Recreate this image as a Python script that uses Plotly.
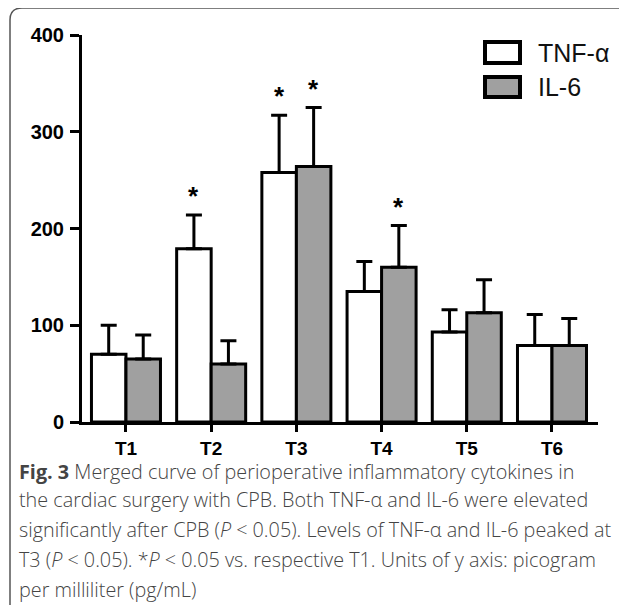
import plotly.graph_objects as go

categories = ["T1", "T2", "T3", "T4", "T5", "T6"]
tnf_mean = [70, 179, 258, 135, 93, 79]
tnf_upper = [100, 214, 317, 166, 116, 111]
il6_mean = [65, 60, 264, 160, 113, 79]
il6_upper = [90, 84, 325, 203, 147, 107]
tnf_sig = [False, True, True, False, False, False]
il6_sig = [False, False, True, True, False, False]
y_ticks = [0, 100, 200, 300, 400]

x = list(range(len(categories)))
tnf_err = [u - m for u, m in zip(tnf_upper, tnf_mean)]
il6_err = [u - m for u, m in zip(il6_upper, il6_mean)]

OFF = 8  # page body margin
W, H = 627 - OFF, 605 - OFF
L, T = 82 - OFF, 35 - OFF
PW = 598 - 82
PH = 422 - 35
R = W - L - PW
B = H - T - PH

def px(xpix):
    return (xpix - 82) / PW

def py(ypix):
    return (422 - ypix) / PH

fig = go.Figure()
common_err = dict(type="data", symmetric=False, color="black", thickness=3, width=8)
fig.add_trace(go.Bar(
    x=x, y=tnf_mean, name="TNF-α",
    marker=dict(color="white", line=dict(color="black", width=3)),
    error_y=dict(array=tnf_err, arrayminus=[0] * 6, **common_err),
))
fig.add_trace(go.Bar(
    x=x, y=il6_mean, name="IL-6",
    marker=dict(color="#a0a0a0", line=dict(color="black", width=3)),
    error_y=dict(array=il6_err, arrayminus=[0] * 6, **common_err),
))

bargap = 0.19
off = (1 - bargap) / 4
star_font = dict(family="Liberation Sans", size=26, color="black", weight="bold")
annotations = []
for i in x:
    if tnf_sig[i]:
        annotations.append(dict(x=i - off, y=tnf_upper[i], xref="x", yref="y", text="*",
                                showarrow=False, yanchor="bottom", yshift=2, font=star_font))
    if il6_sig[i]:
        annotations.append(dict(x=i + off, y=il6_upper[i], xref="x", yref="y", text="*",
                                showarrow=False, yanchor="bottom", yshift=2, font=star_font))

# custom legend
shapes = []
leg_items = [("TNF-α", "white", 42, 63), ("IL-6", "#a0a0a0", 77, 97)]
for name, col, y0, y1 in leg_items:
    shapes.append(dict(type="rect", xref="paper", yref="paper",
                       x0=px(485), x1=px(520), y0=py(y1), y1=py(y0),
                       fillcolor=col, line=dict(color="black", width=4)))
    annotations.append(dict(x=px(536), y=py((y0 + y1) / 2), xref="paper", yref="paper",
                            text=name, showarrow=False, xanchor="left", yanchor="middle",
                            font=dict(family="Liberation Sans", size=25, color="#111")))

# border
rx, ry = 12 / PW, 12 / PH
x0b, ytop, ybot, xr = px(10), py(8), py(640), px(660)
shapes.append(dict(type="path", xref="paper", yref="paper",
                   path=f"M {x0b},{ybot} L {x0b},{ytop - ry} Q {x0b},{ytop} {x0b + rx},{ytop} L {xr},{ytop}",
                   line=dict(color="#555", width=1.5)))

caption = [
    "<b>Fig. 3</b> Merged curve of perioperative inflammatory cytokines in",
    "the cardiac surgery with CPB. Both TNF-α and IL-6 were elevated",
    "significantly after CPB (<i>P</i> < 0.05). Levels of TNF-α and IL-6 peaked at",
    "T3 (<i>P</i> < 0.05). *<i>P</i> < 0.05 vs. respective T1. Units of y axis: picogram",
    "per milliliter (pg/mL)",
]
cap_y = [471, 499, 529, 559, 589]
for line, yy in zip(caption, cap_y):
    annotations.append(dict(x=px(18), y=py(yy), xref="paper", yref="paper", text=line,
                            showarrow=False, xanchor="left", yanchor="middle", borderpad=0,
                            font=dict(family="Open Sans", size=19.8, color="#444444", weight=300)))

fig.update_layout(
    width=W, height=H,
    margin=dict(l=L, r=R, t=T, b=B, autoexpand=False),
    paper_bgcolor="white", plot_bgcolor="white",
    barmode="group", bargap=bargap, bargroupgap=0,
    showlegend=False,
    xaxis=dict(range=[-0.516, 5.54], tickvals=x, ticktext=categories,
               showline=True, linecolor="black", linewidth=3,
               ticks="outside", ticklen=7, tickwidth=3, tickcolor="black",
               ticklabelstandoff=0,
               showgrid=False, zeroline=False, fixedrange=True,
               tickfont=dict(family="Liberation Sans", size=19, color="black", weight="bold")),
    yaxis=dict(range=[0, 400], tickvals=y_ticks,
               showline=True, linecolor="black", linewidth=3,
               ticks="outside", ticklen=9, tickwidth=3, tickcolor="black",
               ticklabelstandoff=2,
               showgrid=False, zeroline=False, fixedrange=True,
               tickfont=dict(family="Liberation Sans", size=20, color="black", weight="bold")),
    shapes=shapes, annotations=annotations,
)

fig.write_html("out.html")
